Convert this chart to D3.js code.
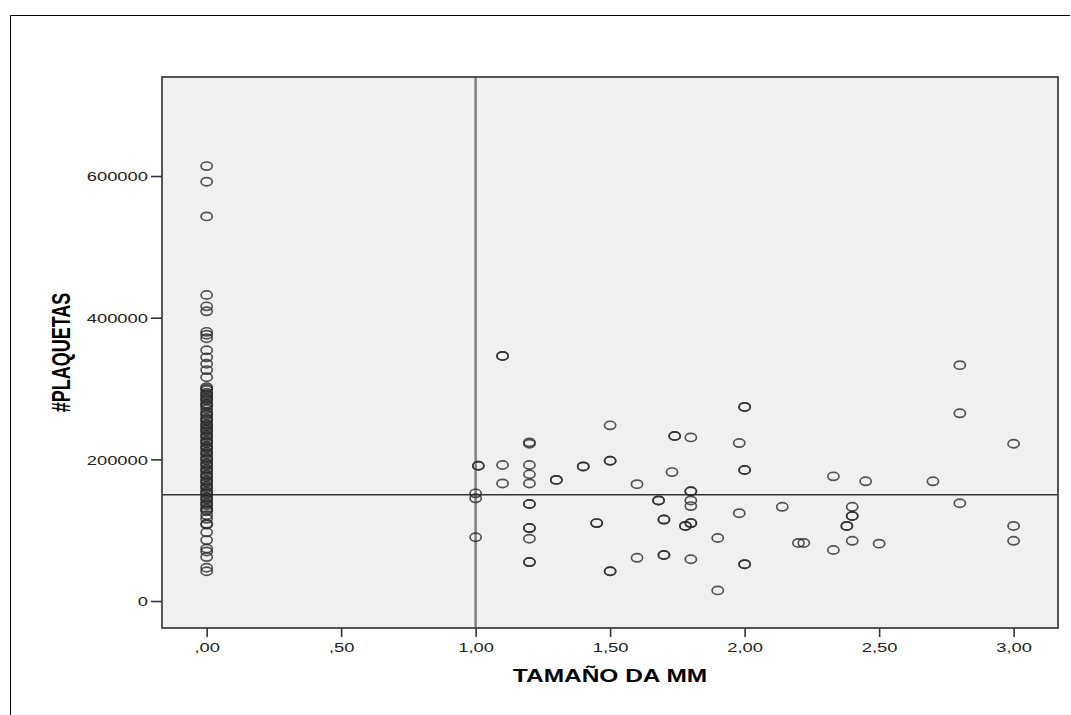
<!DOCTYPE html>
<html>
  <head>
    <meta charset="utf-8">
    <script type="text/javascript" src="https://cdn.jsdelivr.net/npm/d3@7"></script>
    <style>
      body { margin: 0; background: #fff; }
      text { font-family: "Liberation Sans", Arial, sans-serif; }
    </style>
  </head>
  <body>
    <script type="text/javascript">
      // Cases with TAMAÑO DA MM = 0 (the dense column)
      var plaquetasCero = [614000, 592000, 543000, 432000, 416000, 409000, 380000, 376000,
        371000, 354000, 344000, 335000, 326000, 316000, 302000, 298000, 294000, 290000,
        287000, 283000, 279000, 275000, 271000, 267000, 262000, 258000, 254000, 250000,
        246000, 243000, 239000, 235000, 231000, 227000, 223000, 219000, 215000, 211000,
        207000, 203000, 199000, 195000, 191000, 187000, 183000, 179000, 175000, 171000,
        167000, 163000, 159000, 155000, 151000, 147000, 143000, 139000, 135000, 131000,
        127000, 121000, 116000, 109000, 108000, 97000, 86000, 74000, 70000, 62000, 47000, 42000,
        300000, 292000, 285000, 277000, 264000, 256000, 248000, 241000, 233000, 225000,
        217000, 209000, 201000, 193000, 185000, 177000, 169000, 161000, 153000, 145000,
        137000, 129000];

      // Remaining cases (repeated entries are overlapping cases)
      var tamano = [1.10, 1.10, 1.50, 1.20, 1.20, 1.74, 1.74, 1.80, 1.01, 1.01,
        1.10, 1.20, 1.20, 1.20, 1.10, 1.30, 1.30, 1.40, 1.40, 1.50,
        1.50, 1.60, 1.73, 1.80, 1.80, 1.00, 1.00, 1.68, 1.68, 1.80,
        1.80, 1.20, 1.20, 1.45, 1.45, 1.70, 1.70, 1.78, 1.78, 1.80,
        1.80, 1.00, 1.20, 1.20, 1.20, 1.90, 1.20, 1.20, 1.50, 1.50,
        1.60, 1.70, 1.70, 1.80, 1.90, 2.80, 2.00, 2.00, 2.80, 1.98,
        3.00, 2.00, 2.00, 2.33, 2.45, 2.70, 2.80, 1.98, 2.14, 2.40,
        2.40, 2.40, 2.38, 2.38, 3.00, 3.00, 2.20, 2.22, 2.33, 2.40,
        2.50, 2.00, 2.00];
      var plaquetas = [346000, 346000, 248000, 222000, 224000, 233000, 233000, 231000, 191000, 191000,
        192000, 192000, 179000, 166000, 166000, 171000, 171000, 190000, 190000, 198000,
        198000, 165000, 182000, 155000, 155000, 152000, 145000, 142000, 142000, 142000,
        134000, 137000, 137000, 110000, 110000, 115000, 115000, 106000, 106000, 110000,
        110000, 90000, 103000, 103000, 88000, 89000, 55000, 55000, 42000, 42000,
        61000, 65000, 65000, 59000, 15000, 333000, 274000, 274000, 265000, 223000,
        222000, 185000, 185000, 176000, 169000, 169000, 138000, 124000, 133000, 133000,
        120000, 120000, 106000, 106000, 106000, 85000, 82000, 82000, 72000, 85000,
        81000, 52000, 52000];

      // Tick labels and reference lines
      var xTicks = [0, 0.5, 1, 1.5, 2, 2.5, 3];
      var xTickLabels = [",00", ",50", "1,00", "1,50", "2,00", "2,50", "3,00"];
      var yTicks = [0, 200000, 400000, 600000];
      var yTickLabels = ["0", "200000", "400000", "600000"];
      var refX = 1.0;
      var refY = 150000;

      var width = 1071;
      var height = 715;
      var plot = { left: 162, right: 1058, top: 77, bottom: 628 };
      var stretch = 1.36;

      var svg = d3.select("body")
                  .append("svg")
                  .attr("width", width)
                  .attr("height", height);

      // Outer frame (top and left edges only)
      svg.append("path")
         .attr("d", "M10.5," + height + "V15.5H1070")
         .attr("fill", "none")
         .attr("stroke", "#000")
         .attr("stroke-width", 1);

      var x = d3.scaleLinear()
                .domain([-0.166, 3.165])
                .range([plot.left, plot.right]);
      var y = d3.scaleLinear()
                .domain([-38100, 739800])
                .range([plot.bottom, plot.top]);

      // Plot background
      svg.append("rect")
         .attr("x", plot.left)
         .attr("y", plot.top)
         .attr("width", plot.right - plot.left)
         .attr("height", plot.bottom - plot.top)
         .attr("fill", "#f0f0f0");

      // Reference lines
      svg.append("line")
         .attr("x1", x(refX)).attr("x2", x(refX))
         .attr("y1", plot.top).attr("y2", plot.bottom)
         .attr("stroke", "#808080")
         .attr("stroke-width", 2.5);
      svg.append("line")
         .attr("x1", plot.left).attr("x2", plot.right)
         .attr("y1", y(refY)).attr("y2", y(refY))
         .attr("stroke", "#333")
         .attr("stroke-width", 1.3);

      // Points
      var points = plaquetasCero.map(function(v) { return [0, v]; });
      for (var i = 0; i < tamano.length; i++) {
        points.push([tamano[i], plaquetas[i]]);
      }
      svg.append("g")
         .selectAll("ellipse")
         .data(points)
         .enter()
         .append("ellipse")
         .attr("cx", function(d) { return x(d[0]); })
         .attr("cy", function(d) { return y(d[1]); })
         .attr("rx", 5.6)
         .attr("ry", 4.1)
         .attr("fill", "none")
         .attr("stroke", "#2a2a2a")
         .attr("stroke-opacity", 0.8)
         .attr("stroke-width", 1.7);

      // Plot border
      svg.append("rect")
         .attr("x", plot.left)
         .attr("y", plot.top)
         .attr("width", plot.right - plot.left)
         .attr("height", plot.bottom - plot.top)
         .attr("fill", "none")
         .attr("stroke", "#444")
         .attr("stroke-width", 1.8);

      // Y axis
      var yAxis = d3.axisLeft(y)
                    .tickValues(yTicks)
                    .tickSize(11)
                    .tickFormat(function(d, i) { return yTickLabels[i]; });
      var gy = svg.append("g")
                  .attr("transform", "translate(" + plot.left + ",0)")
                  .call(yAxis);
      gy.select(".domain").remove();
      gy.selectAll(".tick line").attr("stroke", "#333").attr("stroke-width", 1.6);
      gy.selectAll(".tick text")
        .attr("x", 0)
        .attr("dy", "0.36em")
        .attr("transform", "translate(-14,0) scale(" + stretch + ",1)")
        .attr("font-size", 13.5)
        .attr("font-family", "Liberation Sans, Arial, sans-serif")
        .attr("fill", "#222");

      // X axis
      var xAxis = d3.axisBottom(x)
                    .tickValues(xTicks)
                    .tickSize(9)
                    .tickFormat(function(d, i) { return xTickLabels[i]; });
      var gx = svg.append("g")
                  .attr("transform", "translate(0," + plot.bottom + ")")
                  .call(xAxis);
      gx.select(".domain").remove();
      gx.selectAll(".tick line").attr("stroke", "#333").attr("stroke-width", 1.6);
      gx.selectAll(".tick text")
        .attr("y", 0)
        .attr("dy", 0)
        .attr("transform", "translate(0,23.5) scale(" + stretch + ",1)")
        .attr("font-size", 13.5)
        .attr("font-family", "Liberation Sans, Arial, sans-serif")
        .attr("fill", "#222");

      // Axis titles
      svg.append("text")
         .text("TAMAÑO DA MM")
         .attr("text-anchor", "middle")
         .attr("font-weight", "bold")
         .attr("font-size", 18)
         .attr("transform", "translate(" + ((plot.left + plot.right) / 2) + ",682) scale(" + stretch + ",1)");
      svg.append("text")
         .text("#PLAQUETAS")
         .attr("text-anchor", "middle")
         .attr("font-weight", "bold")
         .attr("font-size", 18)
         .attr("transform", "translate(70," + ((plot.top + plot.bottom) / 2) + ") rotate(-90) scale(1,1.42)");
    </script>
  </body>
</html>
